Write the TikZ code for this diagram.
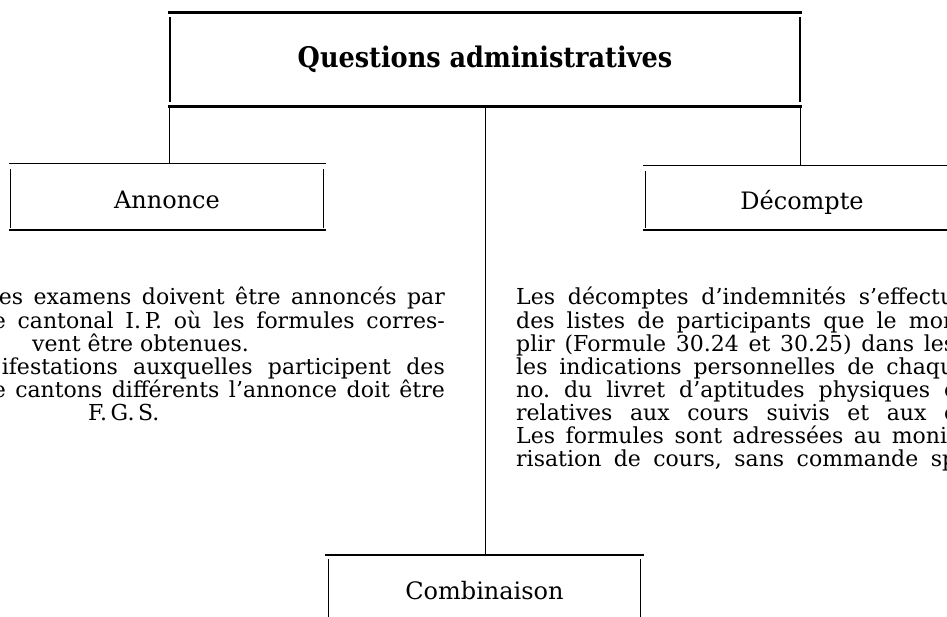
\documentclass[tikz,border=0pt]{standalone}
\usepackage{fontspec}
\setmainfont{DejaVu Serif}
\newfontfamily\titlefont{DejaVu Serif Condensed}
\frenchspacing
\tikzset{
  thickrule/.style={line width=2.7pt},
  thickside/.style={line width=1.9pt},
  boxrule/.style={line width=1.4pt},
  boxside/.style={line width=1pt},
  conn/.style={line width=1pt},
  frame/.style={inner sep=0pt, text height=22.5pt, text depth=0pt,
    font=\fontsize{24}{26}\selectfont},
  body/.style={inner sep=0pt, font=\fontsize{22}{23}\selectfont}
}
\begin{document}
\begin{tikzpicture}[x=1pt,y=-1pt]
\useasboundingbox (0,0) rectangle (947,617);
\fill[white] (0,0) rectangle (947,617);
\clip (0,0) rectangle (947,617);

% top box
\node[inner sep=0pt, minimum width=630pt, minimum height=93pt] (root) at (485,59.5)
  {\titlefont\bfseries\fontsize{28.4}{30}\selectfont Questions administratives};
\draw[thickrule] ([xshift=-2pt]root.north west) -- ([xshift=2pt]root.north east);
\draw[thickrule] ([xshift=-2pt]root.south west) -- ([xshift=2pt]root.south east);
\draw[thickside] ([yshift=-4pt]root.north west) -- ([yshift=4pt]root.south west);
\draw[thickside] ([yshift=-4pt]root.north east) -- ([yshift=4pt]root.south east);

% Annonce
\node[frame, minimum width=312pt, minimum height=66pt] (annonce) at (167,197) {Annonce};
\draw[boxrule] ([xshift=-2pt]annonce.north west) -- ([xshift=3pt]annonce.north east);
\draw[boxrule] ([xshift=-2pt]annonce.south west) -- ([xshift=3pt]annonce.south east);
\draw[boxside] ([yshift=-5pt]annonce.north west) -- ([yshift=2pt]annonce.south west);
\draw[boxside] ([yshift=-5pt]annonce.north east) -- ([yshift=2pt]annonce.south east);

% Decompte
\node[frame, minimum width=312pt, minimum height=64pt] (decompte) at (802,198) {Décompte};
\draw[boxrule] ([xshift=-3pt]decompte.north west) -- ([xshift=3pt]decompte.north east);
\draw[boxrule] ([xshift=-3pt]decompte.south west) -- ([xshift=3pt]decompte.south east);
\draw[boxside] ([yshift=-5pt]decompte.north west) -- ([yshift=2pt]decompte.south west);
\draw[boxside] ([yshift=-5pt]decompte.north east) -- ([yshift=2pt]decompte.south east);

% Combinaison
\node[frame, minimum width=312pt, minimum height=66pt] (combi) at (484.5,588) {Combinaison};
\draw[boxrule] ([xshift=-3pt]combi.north west) -- ([xshift=3pt]combi.north east);
\draw[boxside] ([yshift=-4pt]combi.north west) -- ([yshift=2pt]combi.south west);
\draw[boxside] ([yshift=-4pt]combi.north east) -- ([yshift=2pt]combi.south east);

% connectors
\draw[conn] (root.south west) -- (root.south west |- annonce.north);
\draw[conn] (root.south east) -- (root.south east |- decompte.north);
\draw[conn] (root.south) -- (root.south |- combi.north);

% left text
\node[body, anchor=base east] (l1) at (445,305) {\makebox[446pt][s]{es examens doivent être annoncés par}};
\node[body, anchor=base east] (l2) at (445,328) {\makebox[452pt][s]{e cantonal I.\,P. où les formules corres-}};
\node[body, anchor=base west] (l3) at (32,351) {vent être obtenues.};
\node[body, anchor=base east] (l4) at (445,374) {\makebox[443pt][s]{ifestations auxquelles participent des}};
\node[body, anchor=base east] (l5) at (445,397) {\makebox[452pt][s]{e cantons différents l’annonce doit être}};
\node[body, anchor=base west] (l6) at (88,420) {F.\,G.\,S.};

% right text
\node[body, anchor=base west] (r1) at (516,305) {\makebox[438pt][s]{Les décomptes d’indemnités s’effectu}};
\node[body, anchor=base west] (r2) at (516,328) {\makebox[441pt][s]{des listes de participants que le mon}};
\node[body, anchor=base west] (r3) at (516,351) {\makebox[439pt][s]{plir (Formule 30.24 et 30.25) dans les}};
\node[body, anchor=base west] (r4) at (516,374) {\makebox[438pt][s]{les indications personnelles de chaqu}};
\node[body, anchor=base west] (r5) at (516,397) {\makebox[441pt][s]{no. du livret d’aptitudes physiques e}};
\node[body, anchor=base west] (r6) at (516,420) {\makebox[441pt][s]{relatives aux cours suivis et aux e}};
\node[body, anchor=base west] (r7) at (516,443) {\makebox[431pt][s]{Les formules sont adressées au moni}};
\node[body, anchor=base west] (r8) at (516,466) {\makebox[440pt][s]{risation de cours, sans commande sp}};
\end{tikzpicture}
\end{document}
